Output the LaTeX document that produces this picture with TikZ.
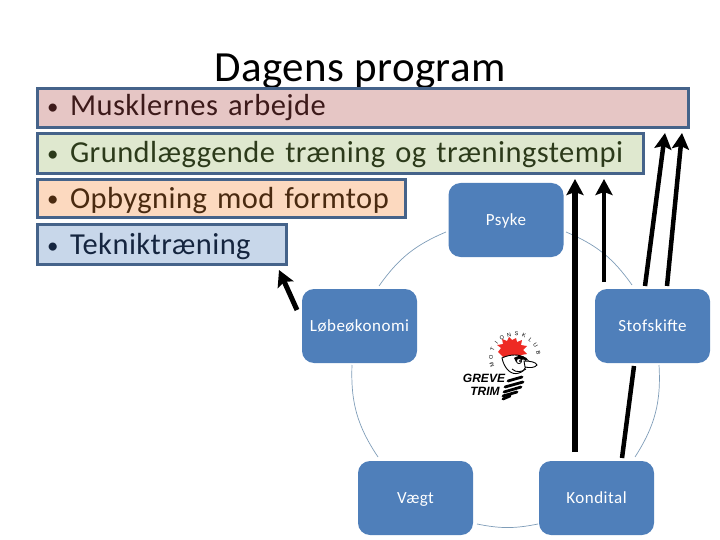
\documentclass[tikz,border=0pt]{standalone}
\usepackage{fontspec}
\setmainfont{Carlito}
\newfontfamily\logofont{Liberation Sans}
\usetikzlibrary{arrows.meta}
\definecolor{edgeblue}{HTML}{45638A}
\definecolor{nodeblue}{HTML}{4F7FBA}
\definecolor{arcblue}{HTML}{7F9DB8}
\definecolor{pinkfill}{HTML}{E6C6C5}
\definecolor{greenfill}{HTML}{DFE8CF}
\definecolor{orangefill}{HTML}{FCD9BF}
\definecolor{bluefill}{HTML}{C8D7EA}
\definecolor{pinktext}{HTML}{3D1A1A}
\definecolor{greentext}{HTML}{2C3A1A}
\definecolor{orangetext}{HTML}{4A2A10}
\definecolor{bluetext}{HTML}{15253F}
\definecolor{logored}{HTML}{EE2A24}
\tikzset{
  listbox/.style={draw=edgeblue,line width=3pt,inner xsep=9.5pt,inner ysep=0pt,align=left,
    font=\fontsize{30.5}{31}\selectfont\addfontfeature{LetterSpace=1.5}},
  cyclebox/.style={fill=nodeblue,rounded corners=12pt,minimum width=115pt,minimum height=74pt,inner sep=0pt,
    text=white,font=\fontsize{17}{19}\selectfont\addfontfeature{LetterSpace=3}},
  cyclearc/.style={draw=arcblue,line width=.7pt},
  bigarrow/.style={draw=black,-{Stealth[width=17pt,length=16pt,inset=3pt]}},
  coil/.style={draw=black,line width=2.8pt,line cap=round},
  logotext/.style={inner sep=0pt,font=\logofont\bfseries\itshape\fontsize{12}{12}\selectfont},
}
\newcommand{\bul}{\makebox[23pt][l]{\raisebox{1pt}{\scalebox{.75}{•}}}}
\newcommand{\drop}[2]{\raisebox{-#1pt}[0pt][0pt]{#2}}
\begin{document}
\begin{tikzpicture}[x=1pt,y=-1pt]
\useasboundingbox (0,0) rectangle (720,540);
\node[inner sep=0pt,anchor=base,font=\fontsize{43}{45}\selectfont\addfontfeature{LetterSpace=1}] (title) at (360,82) {Dagens program};
% list boxes
\node[listbox,fill=pinkfill,text=pinktext,text width=632pt,minimum height=39pt] (l1) at (363,108) {\drop{8}{\bul Musklernes arbejde}};
\node[listbox,fill=greenfill,text=greentext,text width=587pt,minimum height=40pt] (l2) at (340.5,153.5) {\drop{9.5}{\bul Grundlæggende træning og træningstempi}};
\node[listbox,fill=orangefill,text=orangetext,text width=349pt,minimum height=38pt] (l3) at (221.5,198.5) {\drop{9.5}{\bul Opbygning mod formtop}};
\node[listbox,fill=bluefill,text=bluetext,text width=230pt,minimum height=40pt] (l4) at (162,244.5) {\drop{9.5}{\bul Tekniktræning}};
% cycle
\node[cyclebox] (psyke) at (506,220) {\drop{5.5}{Psyke}};
\node[cyclebox] (stof) at (652.5,326) {\drop{5.5}{Stofskifte}};
\node[cyclebox] (kond) at (596.5,498) {\drop{5.5}{Kondital}};
\node[cyclebox] (vaegt) at (415.5,498) {\drop{5.5}{Vægt}};
\node[cyclebox] (lobe) at (359.5,326) {\drop{5.5}{Løbeøkonomi}};
\coordinate (a1) at (566,232);  \coordinate (a2) at (632,285);
\coordinate (b1) at (659,365);  \coordinate (b2) at (635,457);
\coordinate (c1) at (538,524);  \coordinate (c2) at (477,524);
\coordinate (d1) at (378,457);  \coordinate (d2) at (352,365);
\coordinate (e1) at (379,286);  \coordinate (e2) at (446,232);
\draw[cyclearc] (a1) to[bend left=16] (a2);
\draw[cyclearc] (b1) to[bend left=18] (b2);
\draw[cyclearc] (c1) to[bend left=11.5] (c2);
\draw[cyclearc] (d1) to[bend left=18] (d2);
\draw[cyclearc] (e1) to[bend left=16] (e2);
% logo
\fill[logored] (498,352) -- (501,348) -- (497,345) -- (503,344) -- (502,339) -- (507,341) -- (509,337) -- (512,340) -- (516,338) -- (517,342) -- (522,340) -- (521,345) -- (527,346) -- (523,350) -- (527,354) -- (521,355) -- (518,359) -- (510,358) -- (504,358) -- cycle;
\draw[black,line width=.9pt,fill=white] (502,358) .. controls (504,368) and (511,376) .. (519,373) .. controls (526,371) and (528,364) .. (525,358) .. controls (520,354) and (510,354) .. (502,358) -- cycle;
\fill[black] (514,358) .. controls (520,354) and (526,356) .. (529,361) .. controls (526,359) and (520,359) .. (516,362) -- cycle;
\draw[black,line width=.8pt,fill=white] (519,361) circle[radius=2.6];
\fill[black] (520,361) circle[radius=1.1];
\draw[black,line width=.9pt,fill=white] (524,361) .. controls (530,361) and (536,362) .. (537,365) .. controls (535,368) and (529,368) .. (525,367) -- cycle;
\draw[black,line width=.9pt] (512,369) .. controls (516,373) and (522,372) .. (526,369);
\draw[coil] (522,377) -- (508,381);
\draw[coil] (523,382) -- (505,387);
\draw[coil] (521,387) -- (504,392);
\draw[coil] (517,392) -- (503,396);
\draw[coil] (510,396) -- (503,399);
\node[logotext] (greve) at (484,378) {GREVE};
\node[logotext] (trim) at (485,391) {TRIM};
\foreach \ch [count=\i] in {M,O,T,I,O,N,S,K,L,U,B}{
  \pgfmathsetmacro{\ang}{196-(\i-1)*18.3}
  \pgfmathsetmacro{\rot}{\ang-90}
  \node[inner sep=0pt,rotate=\rot,font=\logofont\fontsize{5.5}{6}\selectfont] (m\i) at ({515+24*cos(\ang)},{358-24*sin(\ang)}) {\ch};
}
% arrows
\coordinate (t1) at (297,310); \coordinate (h1) at (279,270);
\coordinate (t2) at (575,452); \coordinate (h2) at (575,179);
\coordinate (t3) at (604,282); \coordinate (h3) at (604,179);
\coordinate (t4) at (645,286); \coordinate (h4) at (665,133);
\coordinate (t5) at (667,286); \coordinate (h5) at (682,133);
\coordinate (t6) at (622,458); \coordinate (h6) at (634,366);
\draw[bigarrow,line width=5pt] (t1) -- (h1);
\draw[bigarrow,line width=5.5pt] (t2) -- (h2);
\draw[bigarrow,line width=4pt] (t3) -- (h3);
\draw[bigarrow,line width=4.5pt] (t4) -- (h4);
\draw[bigarrow,line width=4.5pt] (t5) -- (h5);
\draw[black,line width=4.5pt] (t6) -- (h6);
\end{tikzpicture}
\end{document}
